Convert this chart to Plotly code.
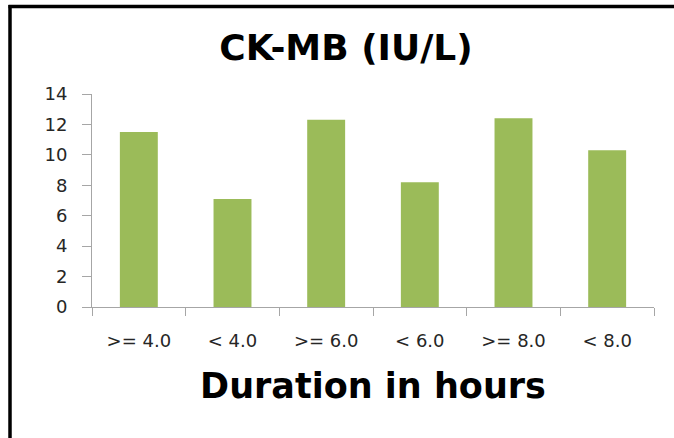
import plotly.graph_objects as go

categories = [">= 4.0", "< 4.0", ">= 6.0", "< 6.0", ">= 8.0", "< 8.0"]
values = [11.5, 7.1, 12.3, 8.2, 12.4, 10.3]
y_ticks = [0, 2, 4, 6, 8, 10, 12, 14]

W, H = 674, 438
ml, mr, mt, mb = 92, 20, 94, 131
pw = W - ml - mr
ph = H - mt - mb

def px_x(p):
    return (p - ml) / pw

def px_y(p):
    return (H - mb - p) / ph

fig = go.Figure(go.Bar(
    x=categories, y=values,
    marker=dict(color="#9bbb59", line=dict(width=0)),
    width=0.405,
))

axis_grey = "#a6a6a6"
tick_font = dict(family="DejaVu Sans", size=18, color="#262626")

fig.update_layout(
    width=W, height=H,
    margin=dict(l=ml, r=mr, t=mt, b=mb),
    paper_bgcolor="white", plot_bgcolor="white",
    showlegend=False,
    title=dict(text="<b>CK-MB (IU/L)</b>", x=346 / W, xanchor="center",
               y=1 - 47 / H, yanchor="middle",
               font=dict(family="DejaVu Sans", size=36, color="black")),
    xaxis=dict(
        showline=True, linecolor=axis_grey, linewidth=1,
        ticks="outside", ticklen=8, tickcolor=axis_grey, tickson="boundaries",
        tickfont=tick_font, ticklabelstandoff=17,
        title=dict(text="<b>Duration in hours</b>", standoff=23,
                   font=dict(family="DejaVu Sans", size=35, color="black")),
        showgrid=False,
    ),
    yaxis=dict(
        range=[0, 14], tickvals=y_ticks,
        showline=True, linecolor=axis_grey, linewidth=1,
        ticks="outside", ticklen=9, tickcolor=axis_grey,
        tickfont=tick_font, ticklabelstandoff=11,
        showgrid=False, zeroline=False,
    ),
    shapes=[
        dict(type="line", xref="paper", yref="paper",
             x0=px_x(10), x1=px_x(10), y0=px_y(5), y1=px_y(440),
             line=dict(color="black", width=3.5), layer="above"),
        dict(type="line", xref="paper", yref="paper",
             x0=px_x(8.5), x1=px_x(676), y0=px_y(6.5), y1=px_y(6.5),
             line=dict(color="black", width=3.5), layer="above"),
    ],
)

fig.write_html("out.html", config={"displayModeBar": False},
               post_script="document.body.style.margin='0px';")
